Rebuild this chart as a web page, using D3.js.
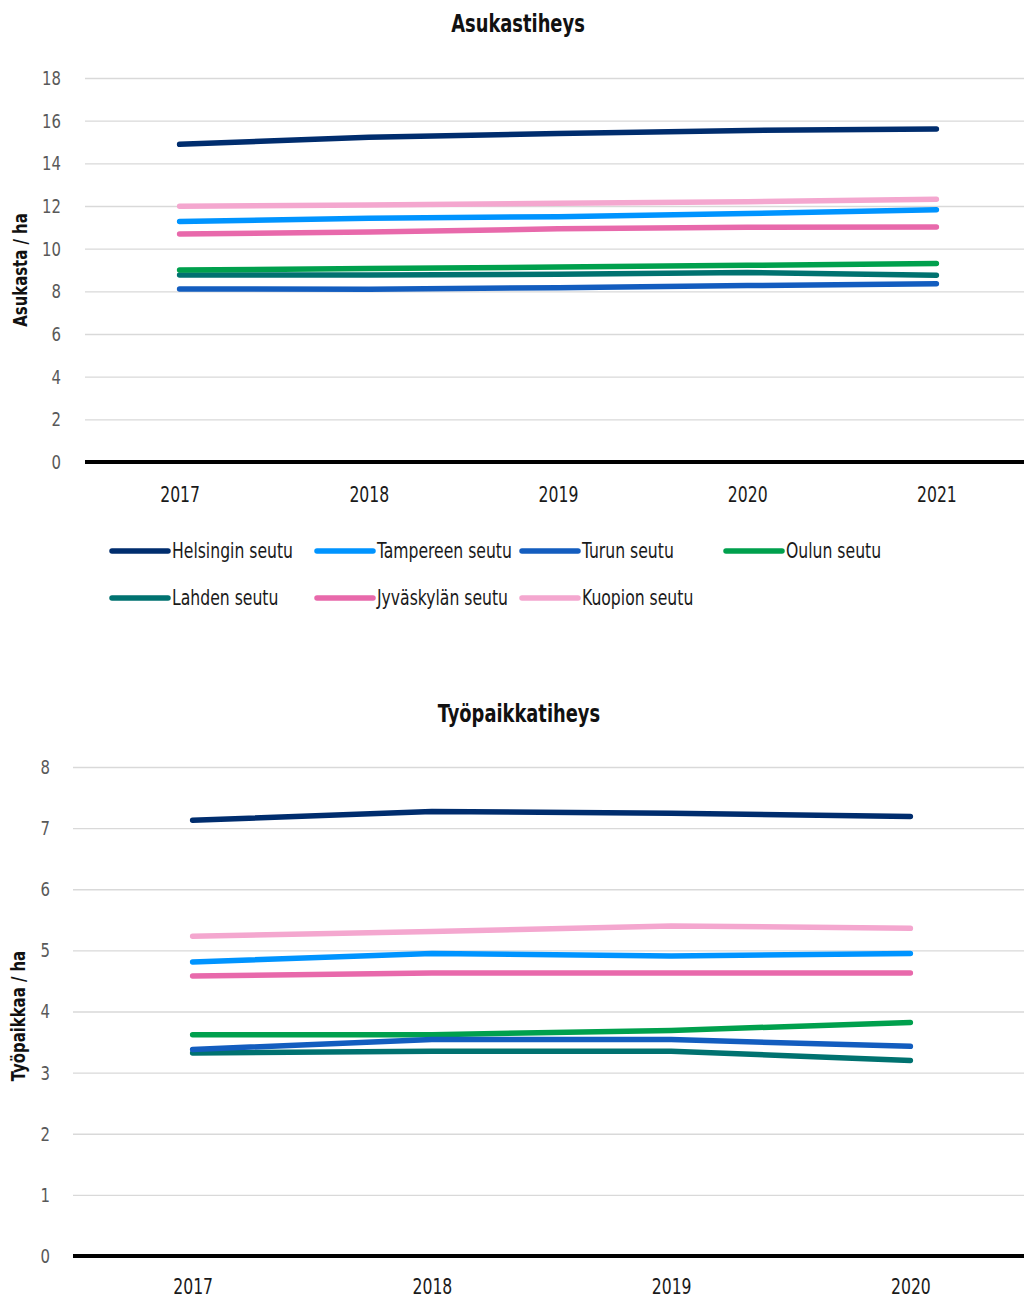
<!DOCTYPE html>
<html>
<head>
<meta charset="utf-8">
<script src="https://cdn.jsdelivr.net/npm/d3@7"></script>
<style>
  html, body { margin: 0; padding: 0; background: #fff; }
  svg { display: block; }
  svg text { font-family: "Liberation Sans Narrow", "DejaVu Sans Condensed", "Liberation Sans", sans-serif; }
</style>
</head>
<body>
<svg id="chart" width="1024" height="1300"></svg>
<script>
// Seutujen nimet ja värit
const regions = ["Helsingin seutu", "Tampereen seutu", "Turun seutu", "Oulun seutu",
                 "Lahden seutu", "Jyväskylän seutu", "Kuopion seutu"];
const colors = ["#002d6e", "#0094ff", "#135dbf", "#00a04d", "#007270", "#e869ab", "#f4a7cf"];

// Asukastiheys (asukasta / ha)
const popYears = ["2017", "2018", "2019", "2020", "2021"];
const popHelsinki  = [14.89, 15.22, 15.40, 15.54, 15.61];
const popTampere   = [11.27, 11.43, 11.50, 11.65, 11.83];
const popTurku     = [8.11, 8.10, 8.17, 8.27, 8.36];
const popOulu      = [9.00, 9.07, 9.14, 9.22, 9.31];
const popLahti     = [8.77, 8.77, 8.80, 8.88, 8.75];
const popJyvaskyla = [10.69, 10.78, 10.93, 11.00, 11.02];
const popKuopio    = [11.99, 12.05, 12.13, 12.20, 12.32];
const popTicks = [0, 2, 4, 6, 8, 10, 12, 14, 16, 18];

// Työpaikkatiheys (työpaikkaa / ha)
const jobYears = ["2017", "2018", "2019", "2020"];
const jobHelsinki  = [7.13, 7.27, 7.245, 7.19];
const jobTampere   = [4.81, 4.95, 4.91, 4.95];
const jobTurku     = [3.38, 3.54, 3.54, 3.43];
const jobOulu      = [3.62, 3.62, 3.69, 3.82];
const jobLahti     = [3.32, 3.35, 3.35, 3.20];
const jobJyvaskyla = [4.58, 4.63, 4.63, 4.63];
const jobKuopio    = [5.23, 5.31, 5.40, 5.36];
const jobTicks = [0, 1, 2, 3, 4, 5, 6, 7, 8];

const svg = d3.select("#chart");

function drawPanel(cfg) {
  const g = svg.append("g");
  const x = d3.scalePoint().domain(cfg.years).range([cfg.x0, cfg.x1]).padding(0.5);
  const y = d3.scaleLinear().domain([0, d3.max(cfg.ticks)]).range([cfg.yBottom, cfg.yTop]);

  // title
  g.append("text")
    .attr("x", cfg.titleX).attr("y", cfg.titleY)
    .attr("text-anchor", "middle")
    .attr("font-size", 24).attr("font-weight", "bold").attr("fill", "#111")
    .text(cfg.title);

  // gridlines + y tick labels
  const yAxis = d3.axisLeft(y).tickValues(cfg.ticks).tickSize(-(1024 - cfg.x0)).tickPadding(cfg.x0 - cfg.labelX);
  const ya = g.append("g").attr("transform", `translate(${cfg.x0},0)`).call(yAxis)
    .attr("font-family", null).attr("font-size", null);
  ya.select(".domain").remove();
  ya.selectAll(".tick line").attr("stroke", "#d9d9d9").attr("stroke-width", 1.3);
  ya.selectAll(".tick text").attr("font-size", 20).attr("fill", "#595959");

  // y axis title
  g.append("text")
    .attr("transform", `translate(${cfg.yTitleX},${cfg.yTitleY}) rotate(-90)`)
    .attr("text-anchor", "middle")
    .attr("font-size", 20).attr("font-weight", "bold").attr("fill", "#111")
    .text(cfg.yTitle);

  // x axis baseline and labels
  g.append("line")
    .attr("x1", cfg.x0).attr("x2", 1024)
    .attr("y1", y(0)).attr("y2", y(0))
    .attr("stroke", "#000").attr("stroke-width", 4);
  const xAxis = d3.axisBottom(x).tickSize(0).tickPadding(cfg.xLabelPad);
  const xa = g.append("g").attr("transform", `translate(0,${y(0)})`).call(xAxis)
    .attr("font-family", null).attr("font-size", null);
  xa.select(".domain").remove();
  xa.selectAll(".tick text").attr("font-size", 21).attr("fill", "#1a1a1a");

  // series lines
  const line = d3.line().x((d, i) => x(cfg.years[i])).y(d => y(d));
  const order = [4, 3, 2, 5, 1, 6, 0];
  order.forEach(k => {
    g.append("path")
      .datum(cfg.series[k])
      .attr("d", line)
      .attr("fill", "none")
      .attr("stroke", colors[k])
      .attr("stroke-width", 5.5)
      .attr("stroke-linecap", "round")
      .attr("stroke-linejoin", "round");
  });
}

drawPanel({
  title: "Asukastiheys", titleX: 518, titleY: 32,
  yTitle: "Asukasta / ha", yTitleX: 27, yTitleY: 270,
  years: popYears, ticks: popTicks,
  x0: 85, x1: 1031, yTop: 78, yBottom: 462, labelX: 61, xLabelPad: 25,
  series: [popHelsinki, popTampere, popTurku, popOulu, popLahti, popJyvaskyla, popKuopio]
});

drawPanel({
  title: "Työpaikkatiheys", titleX: 519, titleY: 722,
  yTitle: "Työpaikkaa / ha", yTitleX: 25, yTitleY: 1016,
  years: jobYears, ticks: jobTicks,
  x0: 73, x1: 1030, yTop: 767, yBottom: 1256, labelX: 50, xLabelPad: 23,
  series: [jobHelsinki, jobTampere, jobTurku, jobOulu, jobLahti, jobJyvaskyla, jobKuopio]
});

// legend
const legendCols = [112, 317, 522, 726];
const legendRows = [551, 598];
const legend = svg.append("g");
regions.forEach((name, i) => {
  const col = i < 4 ? i : i - 4;
  const row = i < 4 ? 0 : 1;
  const lx = legendCols[col], ly = legendRows[row];
  legend.append("line")
    .attr("x1", lx).attr("x2", lx + 56)
    .attr("y1", ly).attr("y2", ly)
    .attr("stroke", colors[i]).attr("stroke-width", 5.5)
    .attr("stroke-linecap", "round");
  legend.append("text")
    .attr("x", lx + 60).attr("y", ly + 7)
    .attr("font-size", 21).attr("fill", "#1a1a1a")
    .text(name);
});

// Narrow the lettering to a condensed width whatever face is picked up
(function condense() {
  const probe = svg.append("text").attr("font-size", 21).text("Helsingin seutu");
  const k = Math.min(1, 121 / probe.node().getComputedTextLength());
  probe.remove();
  svg.selectAll("text").each(function () {
    const w = this.getComputedTextLength();
    this.setAttribute("textLength", (w * k).toFixed(1));
    this.setAttribute("lengthAdjust", "spacingAndGlyphs");
  });
})();
</script>
</body>
</html>
